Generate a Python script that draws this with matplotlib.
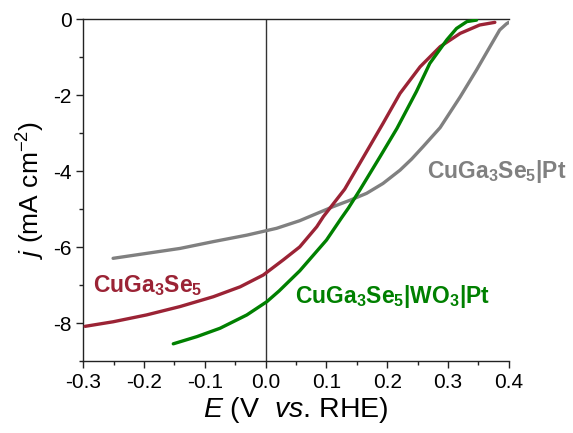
import matplotlib
matplotlib.use("Agg")
import matplotlib.pyplot as plt
from matplotlib.ticker import MultipleLocator

plt.rcParams['font.family'] = 'Liberation Sans'
plt.rcParams['mathtext.fontset'] = 'custom'
plt.rcParams['mathtext.rm'] = 'Liberation Sans'
plt.rcParams['mathtext.it'] = 'Liberation Sans:italic'
plt.rcParams['mathtext.bf'] = 'Liberation Sans:bold'

# CuGa3Se5|Pt (gray)
pt_E = [-0.251, -0.196, -0.141, -0.086, -0.031, 0.018, 0.056, 0.111, 0.139, 0.166,
        0.193, 0.221, 0.240, 0.259, 0.287, 0.320, 0.347, 0.369, 0.385, 0.396, 0.400]
pt_j = [-6.29, -6.16, -6.03, -5.85, -5.68, -5.50, -5.30, -4.93, -4.76, -4.58,
        -4.32, -3.97, -3.68, -3.35, -2.85, -2.04, -1.33, -0.72, -0.28, -0.12, -0.08]

# CuGa3Se5 (red)
bare_E = [-0.297, -0.251, -0.196, -0.141, -0.086, -0.042, -0.004, 0.029, 0.056, 0.084,
          0.095, 0.130, 0.161, 0.193, 0.221, 0.254, 0.287, 0.320, 0.352, 0.377]
bare_j = [-8.08, -7.96, -7.78, -7.56, -7.30, -7.04, -6.73, -6.33, -5.99, -5.46,
          -5.19, -4.47, -3.62, -2.74, -1.95, -1.25, -0.72, -0.37, -0.15, -0.08]

# CuGa3Se5|WO3|Pt (green)
wo3_E = [-0.152, -0.113, -0.075, -0.031, 0.002, 0.022, 0.056, 0.100, 0.125, 0.136,
         0.155, 0.188, 0.216, 0.248, 0.270, 0.298, 0.314, 0.331, 0.347]
wo3_j = [-8.54, -8.35, -8.13, -7.78, -7.43, -7.15, -6.62, -5.81, -5.22, -4.97,
         -4.49, -3.62, -2.87, -1.90, -1.16, -0.54, -0.24, -0.06, -0.02]

c_gray = '#808080'
c_red = '#9b2335'
c_green = '#008000'

fig = plt.figure(figsize=(5.73, 4.33), dpi=100)
ax = fig.add_axes([0.1454, 0.1656, 0.888 - 0.1454, 0.9554 - 0.1656])

ax.axvline(0, color='#333333', lw=1.0, zorder=1)
for E, j, c in [(pt_E, pt_j, c_gray), (bare_E, bare_j, c_red), (wo3_E, wo3_j, c_green)]:
    ax.plot(E, j, color=c, lw=2.4, zorder=3, solid_capstyle='round', solid_joinstyle='round')

ax.set_xlim(-0.3, 0.4)
ax.set_ylim(-9, 0)
ax.xaxis.set_major_locator(MultipleLocator(0.1))
ax.xaxis.set_minor_locator(MultipleLocator(0.05))
ax.yaxis.set_major_locator(MultipleLocator(2))
ax.yaxis.set_minor_locator(MultipleLocator(1))
ax.xaxis.set_major_formatter(plt.FuncFormatter(lambda v, p: '%.1f' % v))
ax.yaxis.set_major_formatter(plt.FuncFormatter(lambda v, p: '%d' % round(v)))
ax.tick_params(which='major', direction='out', length=5, width=1, labelsize=15, color='#222222')
ax.tick_params(which='minor', direction='out', length=3, width=1, color='#222222')
ax.spines['right'].set_visible(False)
for s in ['left', 'bottom', 'top']:
    ax.spines[s].set_color('#222222')
    ax.spines[s].set_linewidth(1.0)

ax.set_xlabel(r'$\mathit{E}$ (V  $\mathit{vs}$. RHE)', fontsize=20.5, labelpad=2)
ax.set_ylabel(r'$\mathit{j}$ (mA cm$^{\mathrm{-2}}$)', fontsize=19, labelpad=4)

ax.text(0.265, -4.18, r'CuGa$_\mathbf{3}$Se$_\mathbf{5}$|Pt', color=c_gray, fontsize=16.5,
        fontweight='bold', va='baseline', ha='left')
ax.text(-0.2835, -7.17, r'CuGa$_\mathbf{3}$Se$_\mathbf{5}$', color=c_red, fontsize=16.5,
        fontweight='bold', va='baseline', ha='left')
ax.text(0.048, -7.46, r'CuGa$_\mathbf{3}$Se$_\mathbf{5}$|WO$_\mathbf{3}$|Pt', color=c_green, fontsize=16.5,
        fontweight='bold', va='baseline', ha='left')

fig.savefig('out.png', dpi=100)
